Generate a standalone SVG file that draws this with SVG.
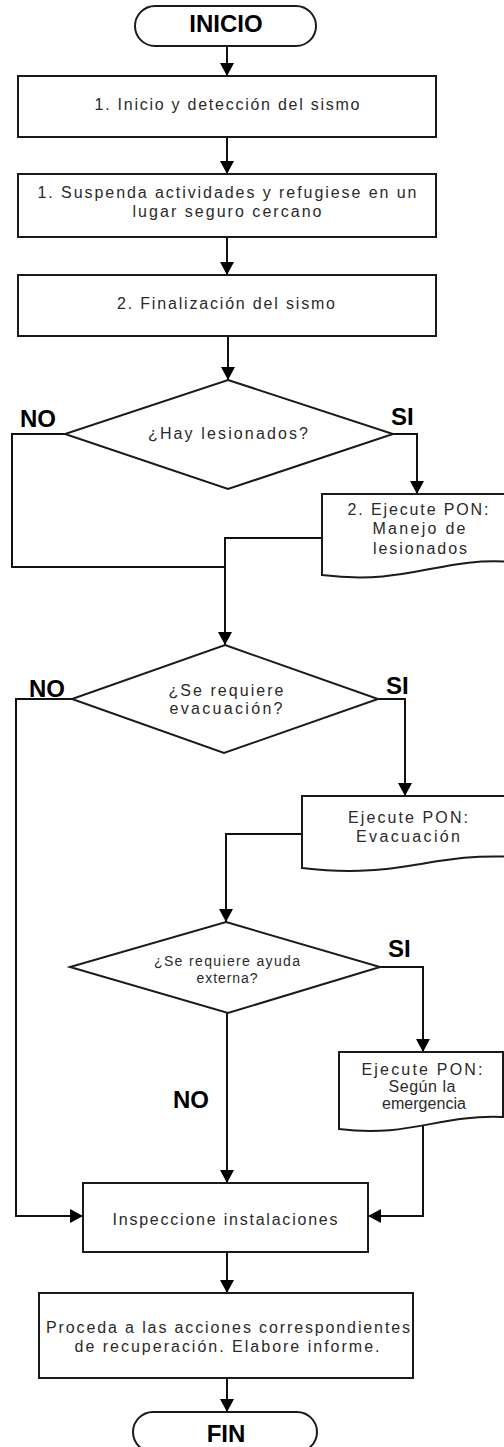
<svg xmlns="http://www.w3.org/2000/svg" width="504" height="1447" viewBox="0 0 504 1447">
<style>
.s{fill:#fff;stroke:#1a1a1a;stroke-width:2}
.c{fill:none;stroke:#111;stroke-width:2}
.t{font-family:"Liberation Sans",Arial,sans-serif;font-size:16px;fill:#2a2a2a;text-anchor:middle}
.sm{font-size:14px}
.b{font-family:"Liberation Sans",Arial,sans-serif;font-size:24px;font-weight:bold;fill:#000}
.bm{text-anchor:middle}
</style>
<defs>
<marker id="ah" markerUnits="userSpaceOnUse" markerWidth="14" markerHeight="14" refX="13" refY="7" orient="auto">
<path d="M0,0 L13,7 L0,14 z" fill="#000"/>
</marker>
</defs>
<rect width="504" height="1447" fill="#fff"/>
<g id="connectors">
<path class="c" d="M227,46 V76" marker-end="url(#ah)"/>
<path class="c" d="M227,137 V174" marker-end="url(#ah)"/>
<path class="c" d="M227,237 V275" marker-end="url(#ah)"/>
<path class="c" d="M228,336 V380" marker-end="url(#ah)"/>
<path class="c" d="M65,434 H12 V567 H225"/>
<path class="c" d="M393,434 H417 V494" marker-end="url(#ah)"/>
<path class="c" d="M322,538 H225 V645" marker-end="url(#ah)"/>
<path class="c" d="M72,699 H16 V1216 H83" marker-end="url(#ah)"/>
<path class="c" d="M378,699 H405 V796" marker-end="url(#ah)"/>
<path class="c" d="M302,834 H226 V922" marker-end="url(#ah)"/>
<path class="c" d="M380,967 H423 V1052" marker-end="url(#ah)"/>
<path class="c" d="M227,1013 V1183" marker-end="url(#ah)"/>
<path class="c" d="M423,1124 V1216 H368" marker-end="url(#ah)"/>
<path class="c" d="M227,1252 V1293" marker-end="url(#ah)"/>
<path class="c" d="M227,1378 V1412" marker-end="url(#ah)"/>
</g>
<g id="labels">
<text class="b" x="20" y="427">NO</text>
<text class="b" x="391" y="425">SI</text>
<text class="b" x="29" y="697">NO</text>
<text class="b" x="386" y="694">SI</text>
<text class="b" x="388" y="957">SI</text>
<text class="b" x="173" y="1108">NO</text>
</g>
<g id="inicio">
<rect class="s" x="135" y="6" width="181" height="40" rx="20"/>
<text class="b bm" x="226" y="32">INICIO</text>
</g>
<g id="box1">
<rect class="s" x="18" y="76" width="418" height="61"/>
<text class="t" x="227" y="110" textLength="265" lengthAdjust="spacing">1. Inicio y detección del sismo</text>
</g>
<g id="box2">
<rect class="s" x="18" y="174" width="418" height="63"/>
<text class="t" x="227" y="198" textLength="379" lengthAdjust="spacing">1. Suspenda actividades y refugiese en un</text>
<text class="t" x="227" y="217" textLength="189" lengthAdjust="spacing">lugar seguro cercano</text>
</g>
<g id="box3">
<rect class="s" x="18" y="275" width="418" height="61"/>
<text class="t" x="226" y="309" textLength="218" lengthAdjust="spacing">2. Finalización del sismo</text>
</g>
<g id="decision1">
<polygon class="s" points="228,380 393,434 228,489 65,434"/>
<text class="t" x="228" y="439" textLength="160" lengthAdjust="spacing" fill="#444">¿Hay lesionados?</text>
</g>
<g id="doc1">
<path class="s" d="M322,494 H514 V562 C440,556 410,586 322,575 Z"/>
<text class="t" x="418" y="515" textLength="141" lengthAdjust="spacing">2. Ejecute PON:</text>
<text class="t" x="419" y="534" textLength="93" lengthAdjust="spacing">Manejo de</text>
<text class="t" x="420" y="554" textLength="94" lengthAdjust="spacing">lesionados</text>
</g>
<g id="decision2">
<polygon class="s" points="225,645 378,699 224,753 72,699"/>
<text class="t" x="226" y="696" textLength="115" lengthAdjust="spacing">¿Se requiere</text>
<text class="t" x="226" y="714" textLength="113" lengthAdjust="spacing">evacuación?</text>
</g>
<g id="doc2">
<path class="s" d="M302,796 H514 V857 C430,852 400,880 302,868 Z"/>
<text class="t" x="408" y="823" textLength="120" lengthAdjust="spacing">Ejecute PON:</text>
<text class="t" x="408" y="842" textLength="104" lengthAdjust="spacing">Evacuación</text>
</g>
<g id="decision3">
<polygon class="s" points="226,922 380,967 228,1013 70,967"/>
<text class="t sm" x="227" y="966" textLength="146" lengthAdjust="spacing">¿Se requiere ayuda</text>
<text class="t sm" x="227" y="983" textLength="61" lengthAdjust="spacing">externa?</text>
</g>
<g id="doc3">
<path class="s" d="M339,1052 H503 V1117 C440,1114 410,1138 339,1129 Z"/>
<text class="t" x="422" y="1075" textLength="121" lengthAdjust="spacing">Ejecute PON:</text>
<text class="t" x="422" y="1092" textLength="67" lengthAdjust="spacing">Según la</text>
<text class="t" x="424" y="1109" textLength="84" lengthAdjust="spacing">emergencia</text>
</g>
<g id="inspeccione">
<rect class="s" x="83" y="1183" width="285" height="69"/>
<text class="t" x="225" y="1225" textLength="225" lengthAdjust="spacing">Inspeccione instalaciones</text>
</g>
<g id="proceda">
<rect class="s" x="39" y="1293" width="374" height="85"/>
<text class="t" x="228" y="1333" textLength="364" lengthAdjust="spacing">Proceda a las acciones correspondientes</text>
<text class="t" x="227" y="1352" textLength="305" lengthAdjust="spacing">de recuperación. Elabore informe.</text>
</g>
<g id="fin">
<rect class="s" x="133" y="1412" width="184" height="40" rx="20"/>
<text class="b bm" x="226" y="1442">FIN</text>
</g>
</svg>
